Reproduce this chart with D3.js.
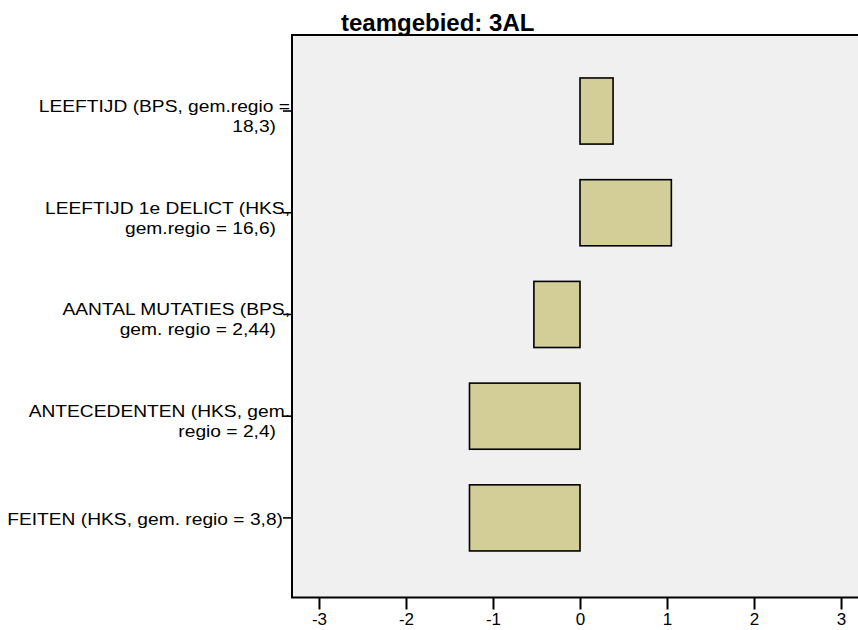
<!DOCTYPE html>
<html>
<head>
<meta charset="utf-8">
<script src="https://cdn.jsdelivr.net/npm/d3@7"></script>
<style>
  body { margin: 0; background: #fff; }
  svg { display: block; font-family: "Liberation Sans", Arial, sans-serif; }
</style>
</head>
<body>
<svg id="chart" width="858" height="630"></svg>
<script>
// data
const titleText = "teamgebied: 3AL";
const categories = ["leeftijd", "leeftijd1e", "mutaties", "antecedenten", "feiten"];
const labelLines = [
  ["LEEFTIJD (BPS, gem.regio =", "18,3)"],
  ["LEEFTIJD 1e DELICT (HKS,", "gem.regio = 16,6)"],
  ["AANTAL MUTATIES (BPS,", "gem. regio = 2,44)"],
  ["ANTECEDENTEN (HKS, gem.", "regio = 2,4)"],
  ["FEITEN (HKS, gem. regio = 3,8)"]
];
const values = [0.38, 1.05, -0.53, -1.27, -1.27];
const xTicks = [-3, -2, -1, 0, 1, 2, 3];

const svg = d3.select("#chart");

// plot frame
const plot = { left: 292, top: 35, right: 868, bottom: 597.5 };

const x = d3.scaleLinear()
  .domain([-3.31, 3.31])
  .range([plot.left, plot.right]);

const y = d3.scaleBand()
  .domain(categories)
  .range([plot.top, plot.bottom])
  .paddingInner(0.35)
  .paddingOuter(0.44)
  .align(0.48);

// background
svg.append("rect")
  .attr("x", plot.left)
  .attr("y", plot.top)
  .attr("width", plot.right - plot.left)
  .attr("height", plot.bottom - plot.top)
  .attr("fill", "#f0f0f0");

// bars
svg.selectAll(".bar")
  .data(values)
  .enter()
  .append("rect")
  .attr("class", "bar")
  .attr("x", (d) => x(Math.min(0, d)))
  .attr("y", (d, i) => y(categories[i]))
  .attr("width", (d) => Math.abs(x(d) - x(0)))
  .attr("height", y.bandwidth())
  .attr("fill", "#d3ce98")
  .attr("stroke", "#000")
  .attr("stroke-width", 1.6);

// frame border
svg.append("rect")
  .attr("x", plot.left)
  .attr("y", plot.top)
  .attr("width", plot.right - plot.left)
  .attr("height", plot.bottom - plot.top)
  .attr("fill", "none")
  .attr("stroke", "#000")
  .attr("stroke-width", 2);

// x axis (plain hyphen for negatives, like the original)
const xAxis = d3.axisBottom(x)
  .tickValues(xTicks)
  .tickFormat((d) => String(d))
  .tickSize(12)
  .tickPadding(3);

const gx = svg.append("g")
  .attr("transform", `translate(0,${plot.bottom})`)
  .call(xAxis);
gx.select(".domain").remove();
gx.selectAll(".tick line").attr("stroke", "#000").attr("stroke-width", 2);
gx.selectAll(".tick text")
  .attr("fill", "#000")
  .style("font-size", "17px")
  .style("font-family", "'Liberation Sans', Arial, sans-serif");

// y axis ticks only
const yAxis = d3.axisLeft(y).tickSize(9).tickFormat("");
const gy = svg.append("g")
  .attr("transform", `translate(${plot.left},0)`)
  .call(yAxis);
gy.select(".domain").remove();
gy.selectAll(".tick line").attr("stroke", "#000").attr("stroke-width", 1.6);

// category labels (wrapped, right aligned, slightly wide)
const labels = svg.selectAll(".cat-label")
  .data(labelLines)
  .enter()
  .append("g")
  .attr("class", "cat-label");

labels.each(function (lines, i) {
  const cy = y(categories[i]) + y.bandwidth() / 2;
  const g = d3.select(this);
  lines.forEach((line, j) => {
    let rightX, baseY;
    if (lines.length === 1) {
      rightX = 283;
      baseY = cy + 7;
    } else {
      rightX = j === 0 ? 290 : 276;
      baseY = cy + 1 + j * 20;
    }
    g.append("text")
      .attr("transform", `translate(${rightX},${baseY}) scale(1.13,1)`)
      .attr("text-anchor", "end")
      .style("font-size", "17px")
      .attr("fill", "#000")
      .text(line);
  });
});

// title
svg.append("text")
  .attr("x", 341)
  .attr("y", 31)
  .style("font-size", "24px")
  .style("font-weight", "bold")
  .attr("fill", "#000")
  .text(titleText);
</script>
</body>
</html>
